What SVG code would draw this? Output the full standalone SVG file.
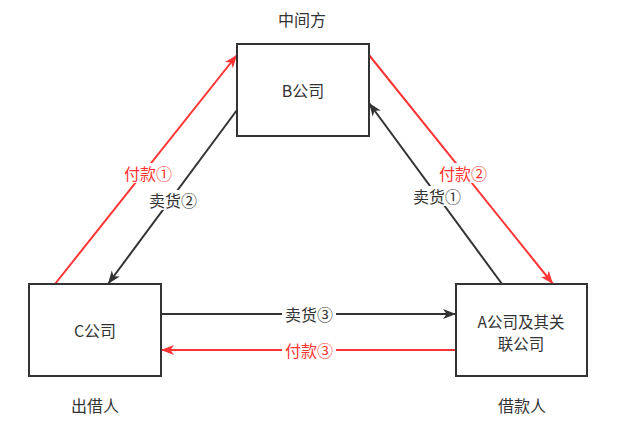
<svg xmlns="http://www.w3.org/2000/svg" width="617" height="430" viewBox="0 0 617 430">
<style>
.box{fill:#fff;stroke:#333;stroke-width:2}
.t{font-family:"Noto Sans CJK SC","Liberation Sans",sans-serif;font-size:16px;fill:#333;text-anchor:middle;dominant-baseline:central}
.s{font-size:15.5px}
.tr{fill:#ff3333}
.lk{stroke:#333;stroke-width:2;fill:none}
.lr{stroke:#ff3333;stroke-width:2;fill:none}
.bg{fill:#fff}
</style>
<defs>
<marker id="ak" markerUnits="userSpaceOnUse" markerWidth="14" markerHeight="12" refX="13" refY="5" orient="auto" viewBox="0 0 14 10">
<path d="M0,0 L13,5 L0,10 L3.5,5 z" fill="#333"/>
</marker>
<marker id="ar" markerUnits="userSpaceOnUse" markerWidth="14" markerHeight="12" refX="13" refY="5" orient="auto" viewBox="0 0 14 10">
<path d="M0,0 L13,5 L0,10 L3.5,5 z" fill="#ff3333"/>
</marker>
</defs>
<g id="connectors">
<line class="lr" x1="55" y1="284" x2="237" y2="55" marker-end="url(#ar)"/>
<line class="lk" x1="237" y1="110" x2="108" y2="284" marker-end="url(#ak)"/>
<line class="lr" x1="369" y1="55" x2="553" y2="284" marker-end="url(#ar)"/>
<line class="lk" x1="502" y1="284" x2="369" y2="103" marker-end="url(#ak)"/>
<line class="lk" x1="161" y1="314" x2="456" y2="314" marker-end="url(#ak)"/>
<line class="lr" x1="456" y1="350" x2="161" y2="350" marker-end="url(#ar)"/>
<rect class="bg" x="121" y="163" width="54" height="20"/>
<text class="t tr" x="148" y="173">付款①</text>
<rect class="bg" x="146" y="190" width="54" height="20"/>
<text class="t" x="173" y="200">卖货②</text>
<rect class="bg" x="436" y="163" width="54" height="20"/>
<text class="t tr" x="463" y="173">付款②</text>
<rect class="bg" x="410" y="186" width="54" height="20"/>
<text class="t" x="437" y="196">卖货①</text>
<rect class="bg" x="282" y="304" width="54" height="20"/>
<text class="t" x="309" y="314">卖货③</text>
<rect class="bg" x="282" y="340" width="54" height="20"/>
<text class="t tr" x="309" y="350">付款③</text>
</g>
<g id="nodeB">
<rect class="box" x="237" y="44" width="132" height="92"/>
<text class="t" x="303" y="90">B公司</text>
</g>
<g id="nodeC">
<rect class="box" x="29" y="284" width="132" height="92"/>
<text class="t" x="95" y="330">C公司</text>
</g>
<g id="nodeA">
<rect class="box" x="456" y="284" width="131" height="92"/>
<text class="t s" x="521" y="320.5">A公司及其关</text>
<text class="t s" x="521" y="343">联公司</text>
</g>
<g id="labelMid"><text class="t" x="302" y="19">中间方</text></g>
<g id="labelLender"><text class="t" x="95" y="405">出借人</text></g>
<g id="labelBorrower"><text class="t" x="522" y="405">借款人</text></g>
</svg>
